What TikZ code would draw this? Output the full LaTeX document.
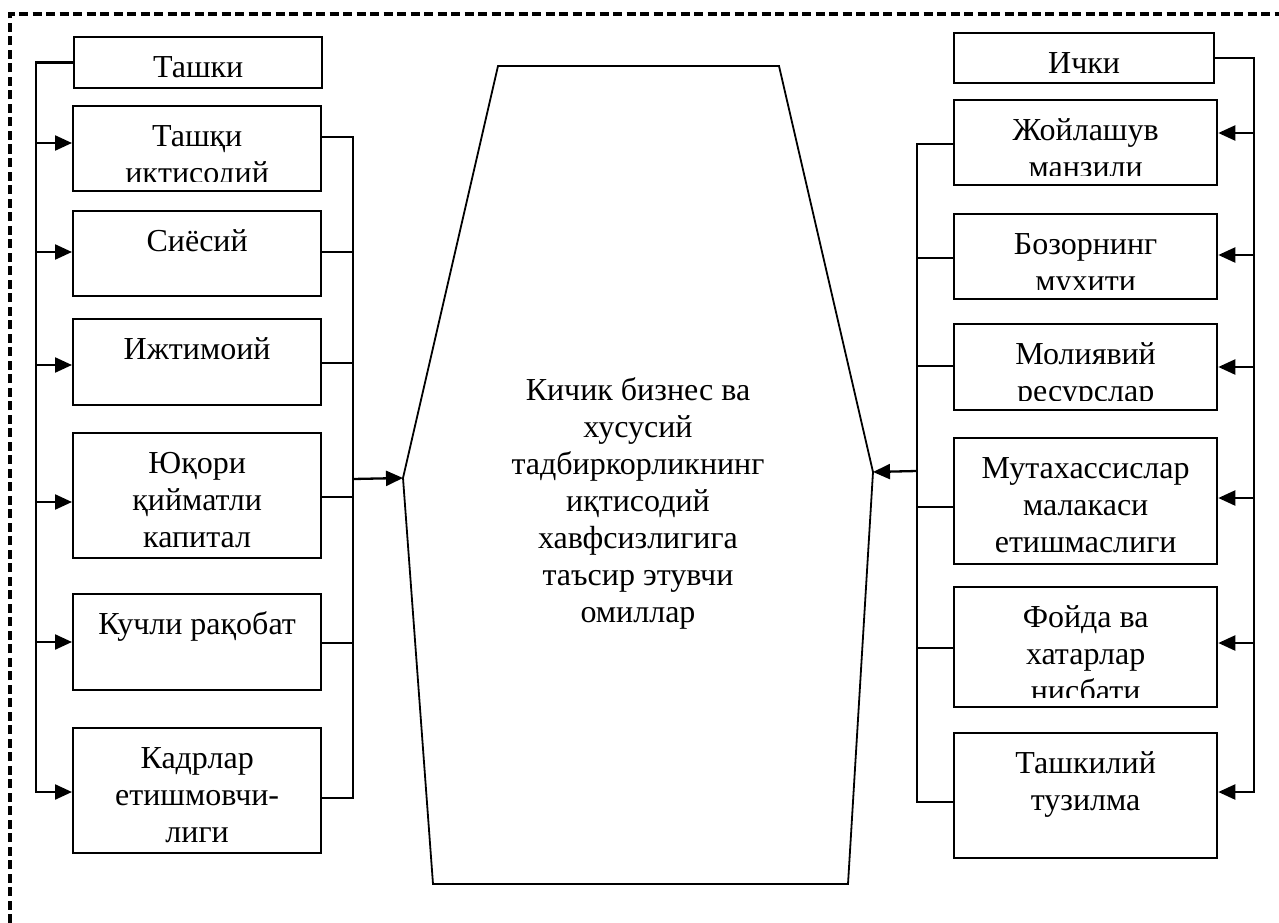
\documentclass[tikz,border=0pt]{standalone}
\usepackage{fontspec}
\setmainfont{Liberation Serif}
\usetikzlibrary{arrows.meta}

\tikzset{
  factor/.style={draw, line width=2.3pt, rectangle, inner sep=0pt, anchor=north west},
  boxtext/.style={path picture={
      \clip ([yshift=10pt]path picture bounding box.south west) rectangle (path picture bounding box.north east);
      \node[anchor=base, inner sep=0pt] at ([yshift=-40pt]path picture bounding box.north) {\parbox[t]{250pt}{\centering #1}};}},
  link/.style={line width=2.3pt},
  arrow/.style={link, -{Triangle[length=17pt, width=15pt]}},
}

\begin{document}
\begin{tikzpicture}[
  x=1pt, y=-1pt,
  every node/.style={font=\fontsize{32}{37}\selectfont},
  ]
\useasboundingbox (0,0) rectangle (1279,923);

% Frame
\draw[line width=3.2pt, dash pattern=on 9pt off 4.5pt] (10,923) -- (10,14) -- (1279,14);

% External factors
\node[factor, minimum width=248pt, minimum height=51pt, boxtext={Ташки}] (ext) at (73,36) {};
\node[factor, minimum width=248pt, minimum height=85pt, boxtext={Ташқи\\иқтисодий}] (ext1) at (72,105) {};
\node[factor, minimum width=248pt, minimum height=85pt, boxtext={Сиёсий}] (ext2) at (72,210) {};
\node[factor, minimum width=248pt, minimum height=86pt, boxtext={Ижтимоий}] (ext3) at (72,318) {};
\node[factor, minimum width=248pt, minimum height=125pt, boxtext={Юқори\\қийматли\\капитал}] (ext4) at (72,432) {};
\node[factor, minimum width=248pt, minimum height=96pt, boxtext={Кучли рақобат}] (ext5) at (72,593) {};
\node[factor, minimum width=248pt, minimum height=125pt, boxtext={Кадрлар\\етишмовчи-\\лиги}] (ext6) at (72,727) {};

% Internal factors
\node[factor, minimum width=260pt, minimum height=50pt, boxtext={Ички}] (int) at (953,32) {};
\node[factor, minimum width=263pt, minimum height=85pt, boxtext={Жойлашув\\манзили}] (int1) at (953,99) {};
\node[factor, minimum width=263pt, minimum height=85pt, boxtext={Бозорнинг\\мухити}] (int2) at (953,213) {};
\node[factor, minimum width=263pt, minimum height=86pt, boxtext={Молиявий\\ресурслар}] (int3) at (953,323) {};
\node[factor, minimum width=263pt, minimum height=126pt, boxtext={Мутахассислар\\малакаси\\етишмаслиги}] (int4) at (953,437) {};
\node[factor, minimum width=263pt, minimum height=120pt, boxtext={Фойда ва\\хатарлар\\нисбати}] (int5) at (953,586) {};
\node[factor, minimum width=263pt, minimum height=125pt, boxtext={Ташкилий\\тузилма}] (int6) at (953,732) {};

% Centre
\coordinate (hl) at (403,478);
\coordinate (hr) at (873,472);
\draw[line width=1.8pt] (498,66) -- (779,66) -- (hr) -- (848,884) -- (433,884) -- (hl) -- cycle;
\node[anchor=base, inner sep=0pt] (core) at (638,400) {\parbox[t]{300pt}{\centering Кичик бизнес ва\\хусусий\\тадбиркорликнинг\\иқтисодий\\хавфсизлигига\\таъсир этувчи\\омиллар}};

% Left arrows
\draw[arrow] (ext.west) -| (36,792) -- (ext6.west |- 0,792);
\foreach \n/\y in {ext1/143, ext2/252, ext3/365, ext4/502, ext5/642}
  \draw[arrow] (36,\y) -- (\n.west |- 0,\y);
\draw[link] (ext1.east |- 0,137) -- (353,137) -- (353,798) -- (ext6.east |- 0,798);
\foreach \n/\y in {ext2/252, ext3/363, ext4/497, ext5/643}
  \draw[link] (\n.east |- 0,\y) -- (353,\y);
\draw[arrow] (353,479) -- (hl);

% Right arrows
\draw[arrow] (int.east) -| (1254,792) -- (int6.east |- 0,792);
\foreach \n/\y in {int1/133, int2/255, int3/367, int4/498, int5/643}
  \draw[arrow] (1254,\y) -- (\n.east |- 0,\y);
\draw[link] (int1.west |- 0,144) -- (917,144) -- (917,802) -- (int6.west |- 0,802);
\foreach \n/\y in {int2/258, int3/366, int4/507, int5/648}
  \draw[link] (\n.west |- 0,\y) -- (917,\y);
\draw[arrow] (917,471) -- (hr);

\end{tikzpicture}
\end{document}
